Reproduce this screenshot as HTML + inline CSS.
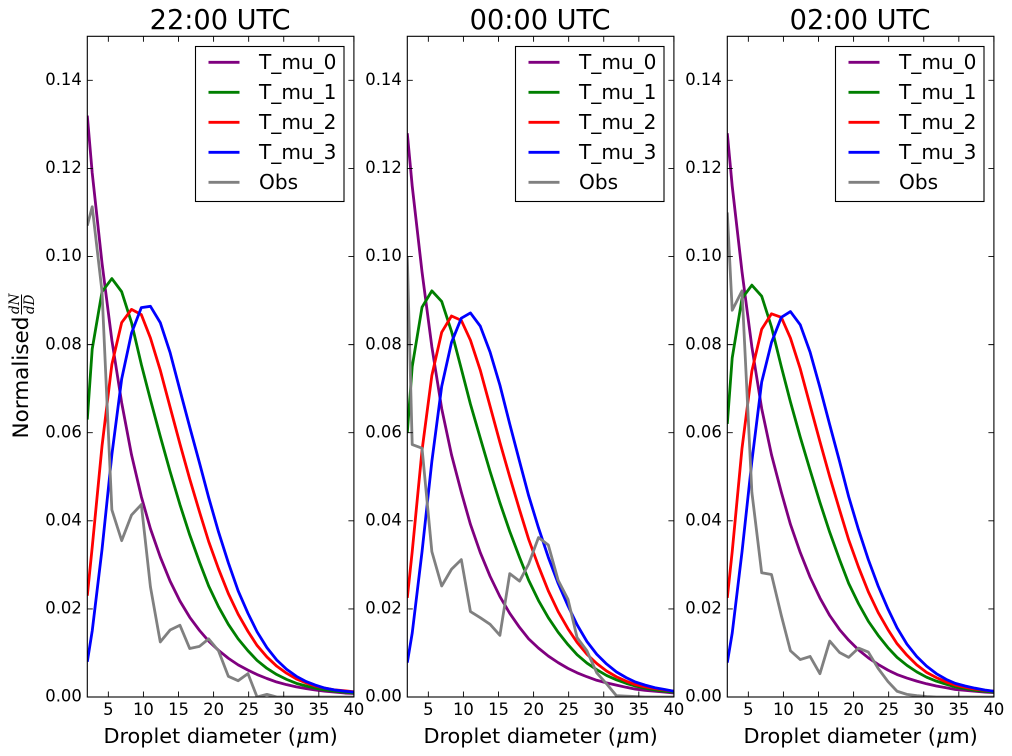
<!DOCTYPE html>
<html>
<head>
<meta charset="utf-8">
<title>Droplet size distributions</title>
<style>
html,body{margin:0;padding:0;background:#fff;}
svg{display:block;font-family:"DejaVu Sans","Liberation Sans",sans-serif;}
</style>
</head>
<body>
<svg id="figure" width="1012" height="756" viewBox="0 0 1012 756" xmlns="http://www.w3.org/2000/svg">
<rect x="0" y="0" width="1012" height="756" fill="#fff"></rect>
<g transform="translate(28,438.5) rotate(-90)">
<text x="0" y="0" font-size="21.5" fill="#000">Normalised</text>
<text x="124.5" y="-9" font-size="13.5" font-style="italic" font-family="'DejaVu Serif','Liberation Serif',serif" fill="#000">dN</text>
<rect x="124" y="-7" width="20" height="1" fill="#000"></rect>
<text x="124.5" y="6" font-size="13.5" font-style="italic" font-family="'DejaVu Serif','Liberation Serif',serif" fill="#000">dD</text>
</g>
</svg>
<script>
const panelTitles = ["22:00 UTC", "00:00 UTC", "02:00 UTC"];
const xTicks = [5, 10, 15, 20, 25, 30, 35, 40];
const yTicks = [0, 0.02, 0.04, 0.06, 0.08, 0.10, 0.12, 0.14];
const yTickLabels = ["0.00", "0.02", "0.04", "0.06", "0.08", "0.10", "0.12", "0.14"];
const seriesNames = ["T_mu_0", "T_mu_1", "T_mu_2", "T_mu_3", "Obs"];
const diameters = [2, 2.7, 4.1, 5.5, 6.9, 8.3, 9.7, 11, 12.4, 13.8, 15.2, 16.6, 18, 19.3, 20.7, 22.1, 23.5, 24.9, 26.2, 27.6, 29, 30.4, 31.8, 33.2, 34.5, 35.9, 37.3, 38.7, 40];

const mu0A = [.132, .119, .0985, .081, .0668, .055, .0455, .0382, .0318, .0263, .0218, .0181, .0151, .0127, .0106, .0088, .0073, .0061, .0051, .0042, .0034, .0028, .0023, .0019, .0016, .0013, .0011, .0009, .0008];
const mu1A = [.063, .079, .092, .095, .092, .085, .0755, .0675, .0592, .0512, .0437, .0368, .0306, .0252, .0205, .0165, .0132, .0105, .0083, .0065, .0051, .004, .0031, .0025, .002, .0016, .0013, .0011, .0009];
const mu2A = [.023, .034, .057, .0755, .085, .088, .0868, .0815, .0742, .0658, .0575, .0495, .042, .0353, .0291, .0235, .0188, .0149, .0117, .0091, .007, .0054, .0041, .0032, .0025, .002, .0016, .0014, .0012];
const mu3A = [.008, .015, .0335, .055, .0722, .0826, .0884, .0887, .085, .0782, .0697, .0613, .0531, .0453, .0375, .0305, .0241, .019, .0148, .0112, .0084, .0063, .0047, .0035, .0027, .002, .0016, .0013, .0011];
const obsA = [.107, .1113, .092, .0425, .0355, .0413, .0437, .025, .0125, .0152, .0163, .011, .0115, .0132, .0105, .0047, .0037, .0053, 0, .0006, 0, 0, 0, 0, 0, 0, 0, 0, 0];

const mu0B = [.128, .116, .0965, .0795, .0655, .055, .0465, .0392, .0328, .0274, .0228, .019, .0158, .0132, .0111, .0093, .0078, .0065, .0055, .0046, .0038, .0032, .0027, .0022, .0018, .0015, .0013, .0011, .0009];
const mu1B = [.06, .075, .0885, .0922, .0898, .083, .0745, .0665, .0588, .0512, .0441, .0376, .0317, .0265, .0219, .018, .0147, .0119, .0096, .0077, .0062, .0049, .0039, .0031, .0025, .002, .0016, .0013, .0011];
const mu2B = [.0225, .033, .056, .073, .0828, .0865, .0855, .081, .0742, .066, .0578, .05, .0425, .0358, .0297, .0241, .0194, .0155, .0124, .0097, .0076, .0059, .0046, .0036, .0028, .0023, .0019, .0016, .0013];
const mu3B = [.0078, .0145, .033, .0535, .0705, .0805, .086, .0872, .0842, .0783, .0708, .062, .0535, .0457, .0384, .0317, .0258, .0207, .0164, .0126, .0097, .0075, .0057, .0044, .0034, .0027, .0021, .0017, .0013];
const obsB = [.1, .0573, .0565, .033, .0252, .029, .0312, .0194, .018, .0165, .014, .028, .0263, .0302, .0362, .0345, .0265, .0222, .0135, .0105, .0055, .003, .0003, .0002, .0001, 0, 0, 0, 0];

const mu0C = [.128, .116, .0965, .0795, .0655, .055, .0465, .0392, .0328, .0272, .0225, .0185, .0153, .0129, .0107, .0089, .0074, .0061, .0051, .0043, .0036, .003, .0025, .0021, .0017, .0015, .0013, .0011, .001];
const mu1C = [.062, .077, .0905, .0935, .091, .084, .075, .067, .059, .0515, .0442, .0374, .0312, .0258, .0212, .0172, .014, .0112, .009, .0072, .0057, .0045, .0036, .0029, .0023, .0019, .0015, .0013, .0011];
const mu2C = [.0225, .033, .0565, .074, .0835, .087, .0862, .0815, .0745, .0662, .058, .05, .0425, .0357, .0295, .0239, .0192, .0153, .0121, .0095, .0073, .0056, .0044, .0034, .0027, .0022, .0018, .0015, .0013];
const mu3C = [.0078, .0145, .033, .0535, .0715, .0805, .0862, .0875, .0845, .0783, .0703, .0618, .0535, .0455, .038, .0312, .0252, .02, .0157, .012, .0092, .007, .0053, .004, .0031, .0025, .002, .0016, .0013];
const obsC = [.11, .0878, .0922, .0465, .0282, .0278, .0185, .0105, .0085, .0092, .0053, .0127, .0101, .009, .0111, .0102, .0065, .0035, .0013, .0006, .0003, .0001, 0, 0, 0, 0, 0, 0, 0];

const panelSeries = [
  [mu0A, mu1A, mu2A, mu3A, obsA],
  [mu0B, mu1B, mu2B, mu3B, obsB],
  [mu0C, mu1C, mu2C, mu3C, obsC]
];

const SVG_NS = "http://www.w3.org/2000/svg";
const figure = document.getElementById("figure");
const seriesColors = ["#7f007f", "#007f00", "#ff0000", "#0000ff", "#808080"];
const panelLefts = [87.3, 407.3, 727.3];
const plotWidth = 266.6, plotTop = 36.3, plotBottom = 697;
const xMin = 2, xMax = 40, yMin = 0, yMax = 0.15;

function xScale(panel, v) {
  return panelLefts[panel] + (v - xMin) / (xMax - xMin) * plotWidth;
}
function yScale(v) {
  return plotBottom - (v - yMin) / (yMax - yMin) * (plotBottom - plotTop);
}
function make(tag, parent, attrs, text) {
  const el = document.createElementNS(SVG_NS, tag);
  for (const k in attrs) el.setAttribute(k, attrs[k]);
  if (text !== undefined) el.textContent = text;
  parent.appendChild(el);
  return el;
}

panelTitles.forEach(function (title, p) {
  const left = panelLefts[p], right = left + plotWidth;
  const g = make("g", figure, {});
  
  

  const clip = make("clipPath", g, { id: "clip" + p });
  make("rect", clip, { x: left, y: plotTop, width: plotWidth, height: plotBottom - plotTop });

  const titleEl = make("text", g, { x: left + plotWidth / 2 - 0.5, y: 29, "text-anchor": "middle", "font-size": 27.2, fill: "#000" }, title);
  
  

  // series
  panelSeries[p].forEach(function (values, s) {
    const pts = values.map(function (v, i) {
      return xScale(p, diameters[i]).toFixed(2) + "," + yScale(v).toFixed(2);
    }).join(" ");
    const line = make("polyline", g, { points: pts, fill: "none", stroke: seriesColors[s], "stroke-width": 2.8, "stroke-linejoin": "round", "clip-path": "url(#clip" + p + ")" });
    
    
  });

  // ticks
  xTicks.forEach(function (t) {
    const x = xScale(p, t);
    const tick = make("path", g, { d: "M" + x + " " + plotBottom + "v-5.5M" + x + " " + plotTop + "v5.5", stroke: "#000", "stroke-width": 0.9, fill: "none" });
    
    
    const label = make("text", g, { x: x, y: 715, "text-anchor": "middle", "font-size": 16.4, fill: "#000" }, String(t));
    
    
  });
  yTicks.forEach(function (t, i) {
    const y = yScale(t);
    const tick = make("path", g, { d: "M" + left + " " + y + "h5.5M" + right + " " + y + "h-5.5", stroke: "#000", "stroke-width": 0.9, fill: "none" });
    
    
    const label = make("text", g, { x: left - 5.5, y: y + 4.7, "text-anchor": "end", "font-size": 16.4, fill: "#000" }, yTickLabels[i]);
    
    
  });

  // frame
  const frame = make("rect", g, { x: left, y: plotTop, width: plotWidth, height: plotBottom - plotTop, fill: "none", stroke: "#000", "stroke-width": 1.1 });
  
  

  // x label
  const xl = make("text", g, { x: left + plotWidth / 2, y: 743, "text-anchor": "middle", "font-size": 20.8, fill: "#000" });
  
  
  make("tspan", xl, {}, "Droplet diameter (");
  make("tspan", xl, { "font-style": "italic", "font-family": "'DejaVu Serif','Liberation Serif',serif" }, "\u03bc");
  make("tspan", xl, {}, "m)");

  // legend
  const lx = left + 108.2;
  const legend = make("g", g, {});
  
  
  make("rect", legend, { x: lx, y: 46.5, width: 148.5, height: 155, fill: "#fff", stroke: "#000", "stroke-width": 1.1 });
  seriesNames.forEach(function (name, s) {
    const ry = 62.3 + s * 30;
    const entry = make("g", legend, {});
    
    
    make("line", entry, { x1: lx + 13, x2: lx + 44, y1: ry, y2: ry, stroke: seriesColors[s], "stroke-width": 2.8 });
    make("text", entry, { x: lx + 63.5, y: ry + 6.5, "font-size": 20.1, fill: "#000" }, name);
  });
});
</script>
</body>
</html>
